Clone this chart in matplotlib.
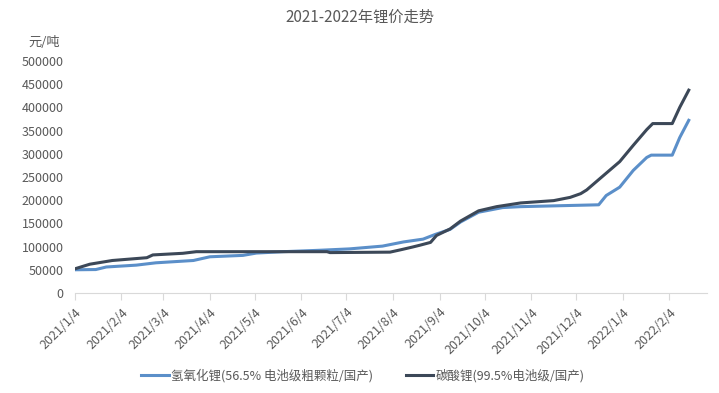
import matplotlib
matplotlib.use("Agg")
import matplotlib.pyplot as plt
import pandas as pd

plt.rcParams['font.family'] = ['Noto Sans CJK SC', 'DejaVu Sans']

# 碳酸锂 (99.5%电池级/国产)
carb_dates = ["2021-01-04", "2021-01-14", "2021-01-29", "2021-02-21", "2021-02-25",
              "2021-03-17", "2021-03-26", "2021-05-14", "2021-06-21", "2021-06-23",
              "2021-08-02", "2021-08-09", "2021-08-17", "2021-08-22", "2021-08-29",
              "2021-09-02", "2021-09-11", "2021-09-18", "2021-09-30", "2021-10-12",
              "2021-10-28", "2021-11-19", "2021-11-30", "2021-12-07", "2021-12-11",
              "2021-12-20", "2022-01-02", "2022-01-11", "2022-01-20", "2022-01-24",
              "2022-02-06", "2022-02-11", "2022-02-17"]
carb_vals = [52000, 62000, 70000, 76000, 82000,
             85500, 89000, 89000, 89000, 87000,
             88000, 93000, 99000, 103000, 109000,
             124000, 138000, 155000, 177000, 186000,
             194000, 199000, 206000, 214000, 222000,
             247000, 283000, 318000, 352000, 365000,
             365000, 400000, 437000]

# 氢氧化锂 (56.5% 电池级粗颗粒/国产)
hydro_dates = ["2021-01-04", "2021-01-18", "2021-01-25", "2021-02-14", "2021-02-27",
               "2021-03-24", "2021-04-04", "2021-04-26", "2021-05-05", "2021-05-23",
               "2021-06-16", "2021-07-06", "2021-07-28", "2021-08-11", "2021-08-24",
               "2021-09-01", "2021-09-11", "2021-09-18", "2021-09-30", "2021-10-16",
               "2021-10-28", "2021-12-19", "2021-12-24", "2022-01-02", "2022-01-11",
               "2022-01-20", "2022-01-23", "2022-02-06", "2022-02-11", "2022-02-17"]
hydro_vals = [50000, 50500, 56000, 60000, 65000,
              70000, 78000, 81000, 86000, 89000,
              92000, 95000, 101000, 110000, 116000,
              126000, 137000, 153000, 174000, 184000,
              186000, 190000, 210000, 228000, 264000,
              292000, 297000, 297000, 335000, 372000]

tick_dates = pd.date_range("2021-01-01", "2022-02-01", freq="MS") + pd.Timedelta(days=3)
tick_labels = [f"{d.year}/{d.month}/{d.day}" for d in tick_dates]

fig = plt.figure(figsize=(7.19, 3.93), dpi=100)
ax = fig.add_axes([0.104, 0.2545, 0.879, 0.5905])

txt = "#595959"
ax.plot(pd.to_datetime(hydro_dates), hydro_vals, color="#5b8fc9", lw=2.2,
        label="氢氧化锂(56.5% 电池级粗颗粒/国产)")
ax.plot(pd.to_datetime(carb_dates), carb_vals, color="#3c4858", lw=2.2,
        label="碳酸锂(99.5%电池级/国产)")

ax.set_ylim(0, 500000)
ax.set_yticks(range(0, 500001, 50000))
ax.set_xlim(pd.Timestamp("2021-01-04"), pd.Timestamp("2022-03-01"))
ax.set_xticks(tick_dates)
ax.set_xticklabels(tick_labels, rotation=45, ha="right", rotation_mode="anchor")

for s in ["top", "right", "left"]:
    ax.spines[s].set_visible(False)
ax.spines["bottom"].set_color("#d9d9d9")
ax.tick_params(axis="y", length=0, labelsize=9, colors=txt, pad=8)
ax.tick_params(axis="x", length=5, color="#d9d9d9", labelsize=9, labelcolor=txt, pad=4)

fig.text(0.5, 0.955, "2021-2022年锂价走势", ha="center", va="center", fontsize=11, color=txt)
fig.text(0.062, 0.893, "元/吨", ha="center", va="center", fontsize=9.5, color=txt)

fig.legend(loc="center", bbox_to_anchor=(0.505, 0.045), ncol=2, frameon=False,
           fontsize=9, labelcolor=txt, handlelength=2.2, handletextpad=0.2,
           columnspacing=2.6)

fig.savefig("out.png", dpi=100)
